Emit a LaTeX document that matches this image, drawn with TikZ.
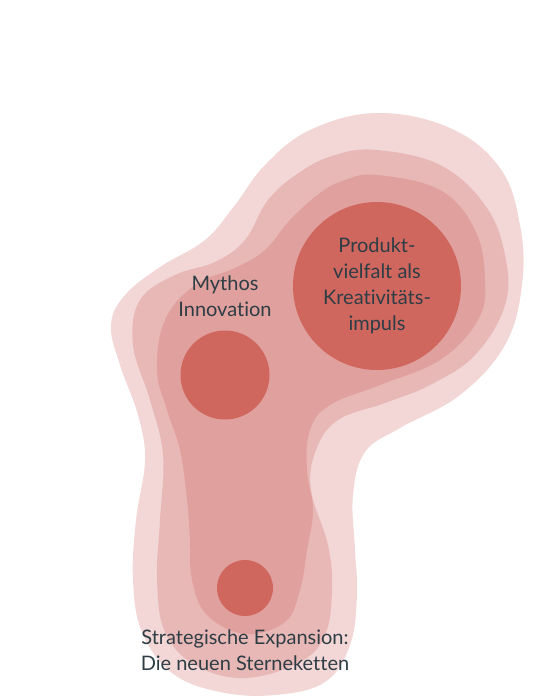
\documentclass[tikz,border=0pt]{standalone}
\usepackage{fontspec}
\setmainfont{Lato}[Ligatures=NoCommon]
\usepackage{tikz}
\usetikzlibrary{positioning}
\definecolor{ringa}{HTML}{F2D7D6}
\definecolor{ringb}{HTML}{E8B8B6}
\definecolor{ringc}{HTML}{E0A09D}
\definecolor{core}{HTML}{D0675F}
\definecolor{ink}{HTML}{2E3D45}

\begin{document}
\begin{tikzpicture}[
  x=1pt, y=-1pt,
  ring/.style={smooth cycle, tension=0.65},
  spot/.style={circle, fill=core, draw=none, inner sep=0pt},
  label/.style={font=\fontsize{20}{26}\selectfont, text=ink, align=center, inner sep=0pt}
]
\useasboundingbox (0,0) rectangle (540,697);

% contour rings, outer to inner
\fill[ringa] plot[ring] coordinates {
  (377,113) (450,128) (500,168) (520,225) (522,285) (505,345) (460,395)
  (400,428) (365,452) (353,495) (355,550) (357,595) (350,645) (325,682)
  (275,695) (220,692) (172,673) (142,632) (133,580) (136,520) (145,460)
  (138,415) (120,365) (111,325) (125,295) (160,267) (205,240) (235,205)
  (265,165) (310,130)};
\fill[ringb] plot[ring] coordinates {
  (377,150) (440,165) (485,205) (505,255) (505,305) (475,355) (430,385)
  (385,403) (338,420) (316,450) (311,490) (328,545) (332,590) (325,635)
  (300,662) (245,678) (195,665) (165,632) (157,580) (160,520) (163,455)
  (150,400) (133,345) (140,300) (175,275) (215,262) (245,240) (268,200)
  (300,172) (335,155)};
\fill[ringc] plot[ring] coordinates {
  (377,175) (440,190) (475,230) (485,280) (478,320) (440,360) (380,385)
  (330,405) (310,430) (307,470) (313,510) (307,550) (300,590) (285,622)
  (245,634) (207,615) (192,580) (190,540) (187,500) (180,450) (167,410)
  (157,370) (165,320) (195,285) (235,268) (265,250) (290,220) (320,193)
  (345,180)};

% cores
\node[spot, minimum size=168] (prod) at (377,286) {};
\node[spot, minimum size=89] (myth) at (225,375) {};
\node[spot, minimum size=56] (expa) at (245,588) {};

% labels
\node[label] (prodtxt) at (prod) {Produkt-\\vielfalt als\\Kreativitäts-\\impuls};
\node[label, above=13pt of myth] (mythtxt) {Mythos\\Innovation};
\node[label, below=13pt of expa] (expatxt) {Strategische Expansion:\\Die neuen Sterneketten};
\end{tikzpicture}
\end{document}
